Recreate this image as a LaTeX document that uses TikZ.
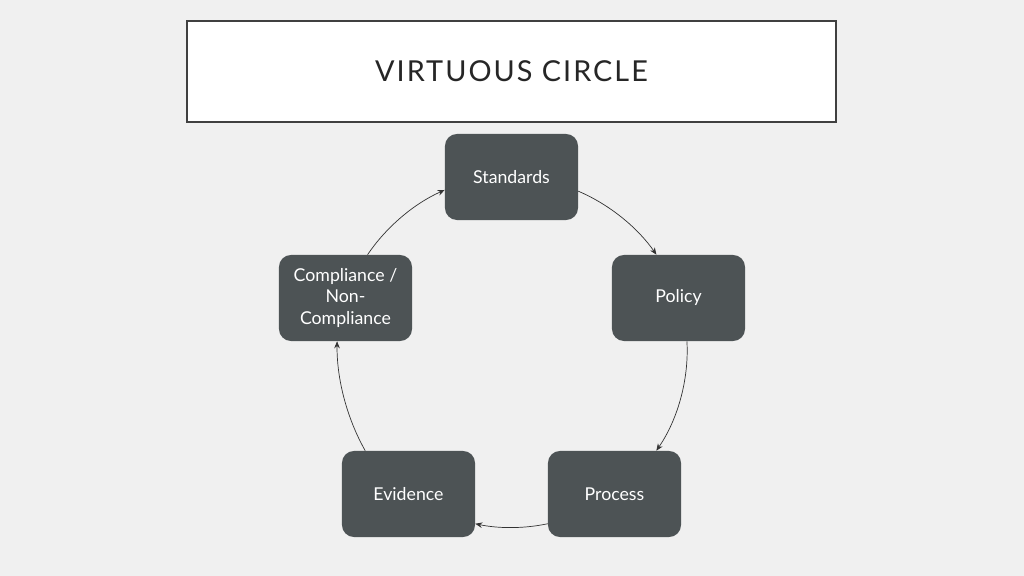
\documentclass[tikz,border=0pt]{standalone}
\usepackage{fontspec}
\setmainfont{Lato}
\usetikzlibrary{arrows.meta}
\definecolor{pagebg}{RGB}{240,240,240}
\definecolor{boxfill}{RGB}{77,83,85}
\definecolor{framegray}{RGB}{64,64,64}
\definecolor{titlegray}{RGB}{38,38,38}
\begin{document}
\begin{tikzpicture}[x=0.025cm, y=0.025cm,
    stepbox/.style={rectangle, rounded corners=0.3cm, fill=boxfill, text=white,
        minimum width=3.325cm, minimum height=2.15cm, inner sep=2pt, align=center,
        font=\fontsize{12.6}{15}\selectfont},
    cyc/.style={draw=black!80, line width=0.5pt, -{Stealth[length=5pt,width=4pt]}, looseness=0.85}]

        \fill[pagebg] (0,0) rectangle (1024,576);
        \node[draw=framegray, line width=1.5pt, fill=white, minimum width=16.225cm, minimum height=2.525cm,
            text=titlegray, font=\fontsize{20.5}{24}\selectfont\addfontfeature{LetterSpace=7}] (title) at (511.5,504.5) {VIRTUOUS CIRCLE};

        \node[stepbox] (std)  at (511.5,399) {Standards};
        \node[stepbox] (pol)  at (678.5,278) {Policy};
        \node[stepbox] (proc) at (614.5,82)  {Process};
        \node[stepbox] (evid) at (408.5,82)  {Evidence};
        \node[stepbox] (comp) at (345.5,278) {Compliance /\\Non-\\Compliance};

        \draw[cyc] (std.-12)   to[bend left=16] (pol.117);
        \draw[cyc] (pol.-79)   to[bend left=19] (proc.46);
        \draw[cyc] (proc.-156) to[bend left=12] (evid.-24);
        \draw[cyc] (evid.135)  to[bend left=15] (comp.-101);
        \draw[cyc] (comp.63)   to[bend left=16] (std.-169);

    \end{tikzpicture}
\end{document}
